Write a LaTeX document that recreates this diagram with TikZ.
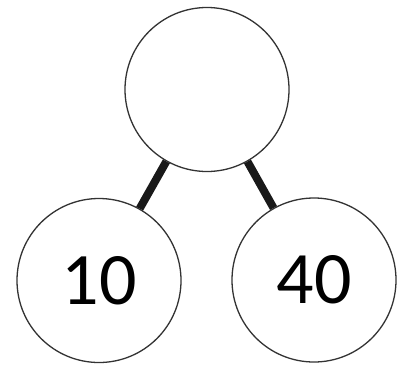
\documentclass[tikz,border=0pt]{standalone}
\usepackage{fontspec}
\setmainfont{Carlito}
\begin{document}
\begin{tikzpicture}[x=1pt,y=-1pt,
  bubble/.style={circle,draw=black!80,line width=1.3pt,minimum size=164pt,inner sep=0pt,
    font=\fontsize{74}{80}\selectfont},
  link/.style={line width=8pt,black!90}]
\useasboundingbox (0,0) rectangle (406,367);
\node[bubble] (top) at (207,89.5) {};
\node[bubble] (left) at (99,280.5) {10};
\node[bubble] (right) at (314,280) {40};
\draw[link] (top) -- (left);
\draw[link] (top) -- (right);
\end{tikzpicture}
\end{document}
